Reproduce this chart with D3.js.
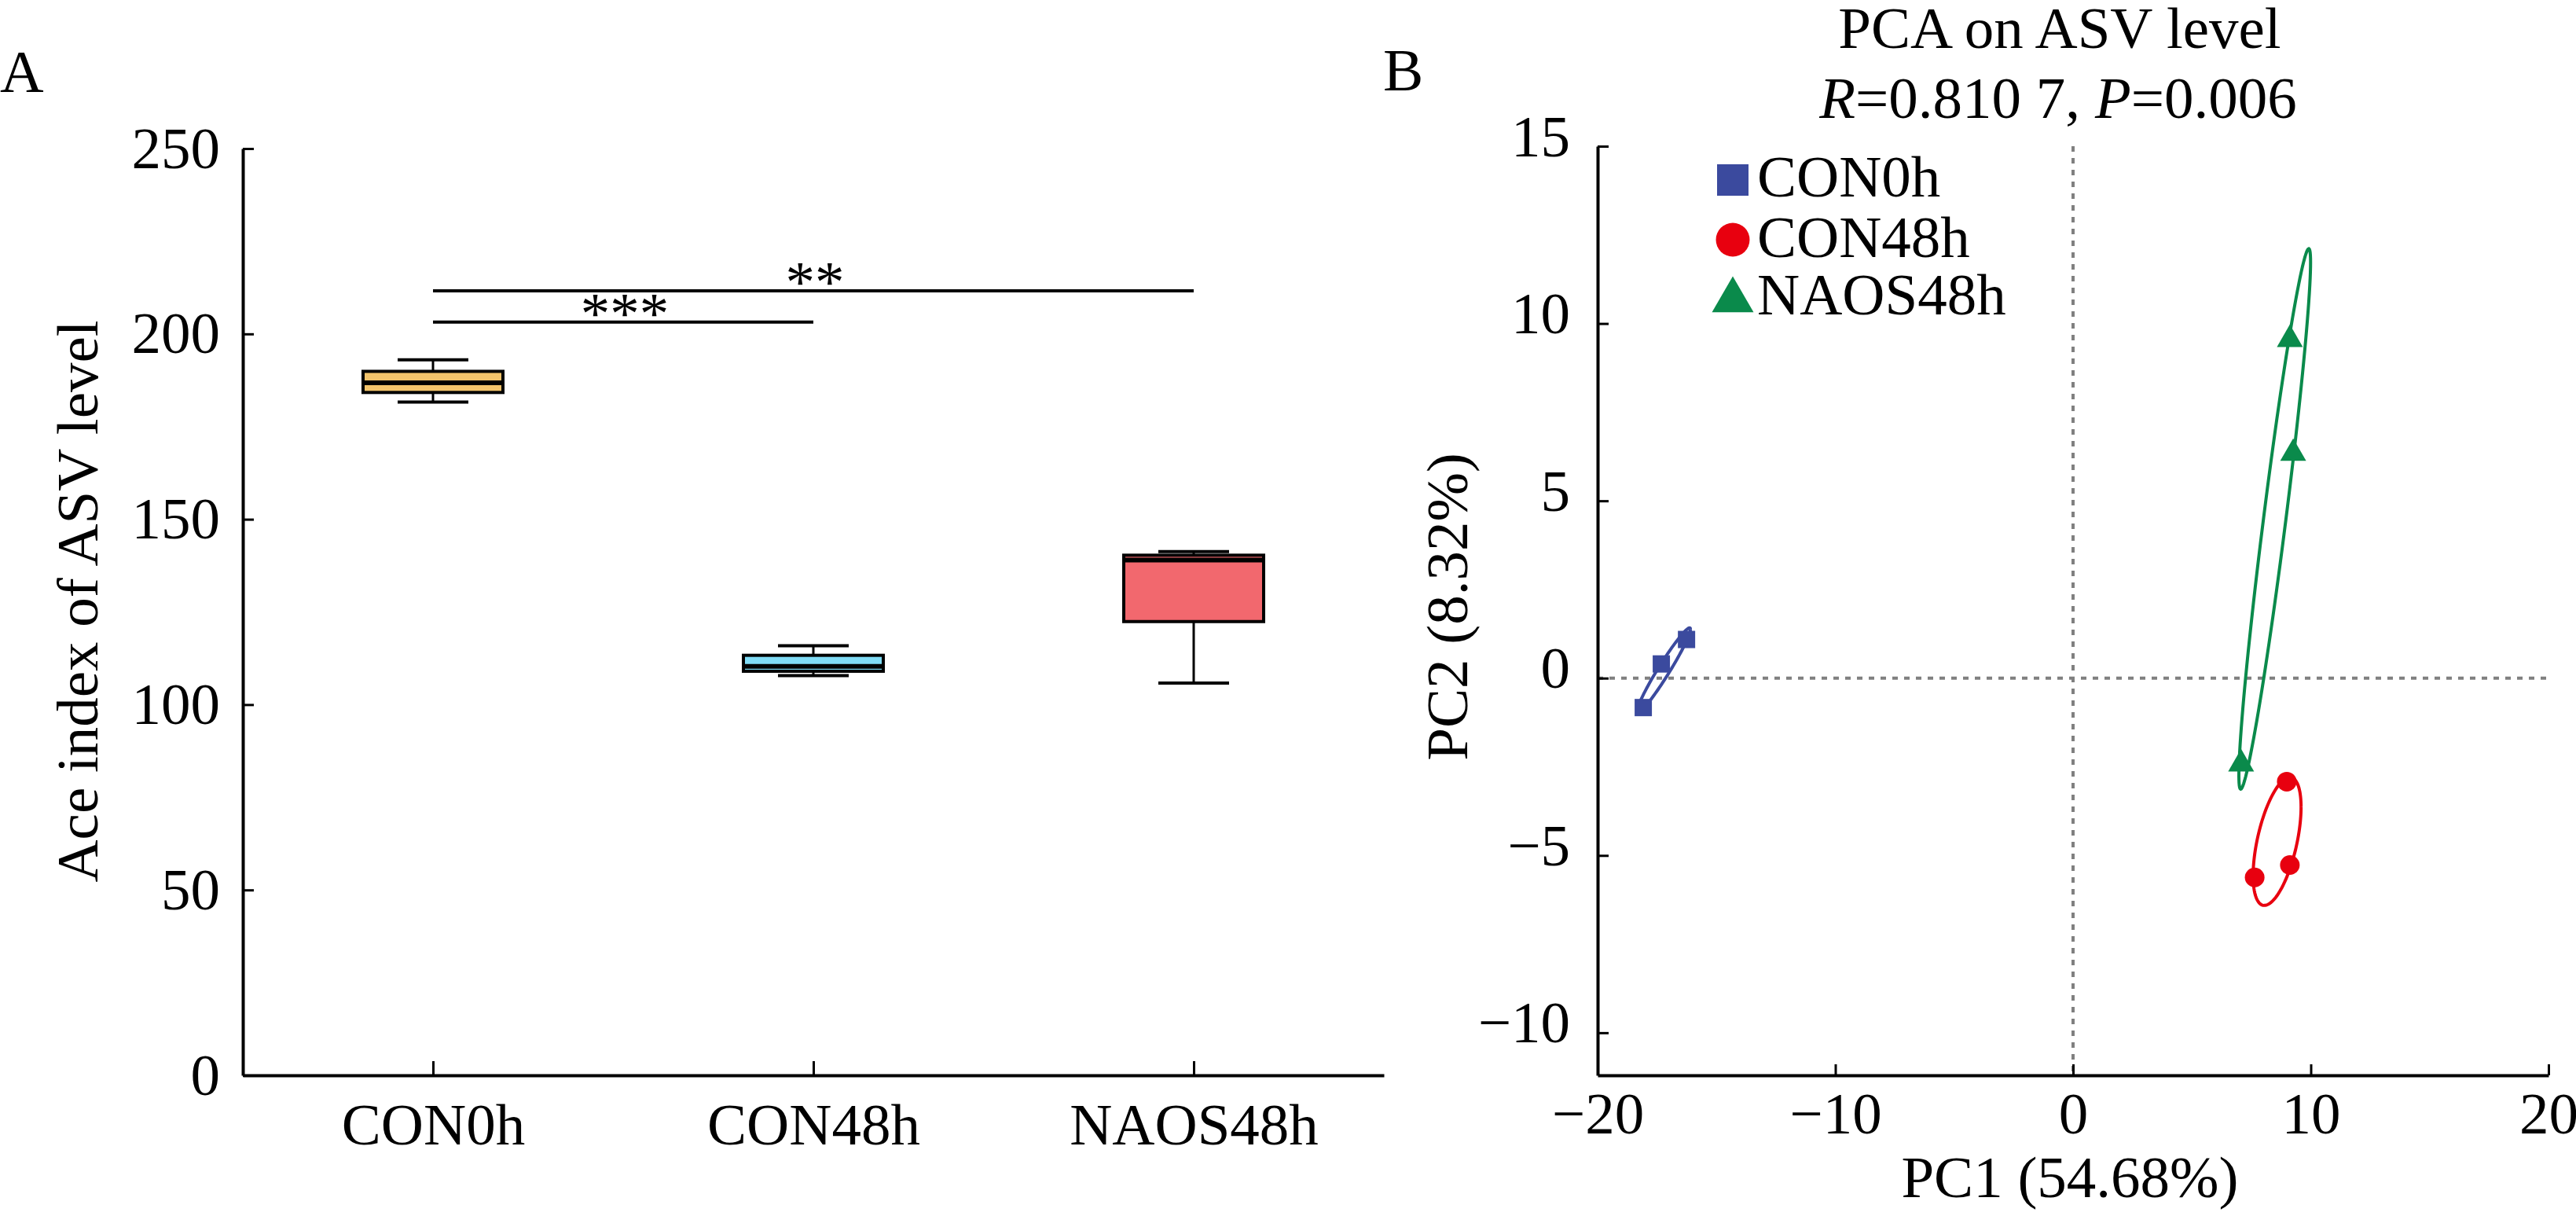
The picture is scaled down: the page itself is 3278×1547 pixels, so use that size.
<!DOCTYPE html>
<html>
<head>
<meta charset="utf-8">
<script src="https://cdn.jsdelivr.net/npm/d3@7"></script>
<style>
  body { margin: 0; background: #fff; }
  text { font-family: "Liberation Serif", "Times New Roman", serif; fill: #000; }
</style>
</head>
<body>
<svg id="fig"></svg>
<script>
// Whole figure size
const width = 3278, height = 1547;
const svg = d3.select("#fig").attr("width", width).attr("height", height);
const fontSize = 75;

// ---- Panel A data: Ace index box plots ----
const groups = ["CON0h", "CON48h", "NAOS48h"];
const whiskerLow  = [181.6, 107.8, 105.8];
const q1          = [184.2, 109.0, 122.4];
const median      = [186.8, 110.3, 139.0];
const q3          = [189.9, 113.3, 140.3];
const whiskerHigh = [193.0, 115.9, 141.3];
const boxColors   = ["#F2C36B", "#80DCF6", "#F2686E"];
const yTicksA     = [0, 50, 100, 150, 200, 250];

// significance bars
const sigFrom  = ["CON0h", "CON0h"];
const sigTo    = ["CON48h", "NAOS48h"];
const sigLevel = [203.2, 211.6];
const sigText  = ["***", "**"];

// ---- Panel B data: PCA scores ----
const pcaGroups = ["CON0h", "CON48h", "NAOS48h"];
const con0hPC1  = [-18.08, -17.32, -16.26];
const con0hPC2  = [-0.83, 0.40, 1.09];
const con48hPC1 = [8.99, 9.12, 7.64];
const con48hPC2 = [-2.92, -5.27, -5.62];
const naosPC1   = [9.12, 9.26, 7.07];
const naosPC2   = [9.55, 6.34, -2.42];
const pcaColors = ["#3B4A9E", "#E8000F", "#0A8A4B"];
const xTicksB = [-20, -10, 0, 10, 20];
const yTicksB = [-10, -5, 0, 5, 10, 15];

// ================= Panel A =================
const xA = d3.scalePoint().domain(groups).range([309, 1761]).padding(0.5);
const yA = d3.scaleLinear().domain([0, 250]).range([1368, 189]);

svg.append("text").attr("x", 0).attr("y", 117)
  .style("font-size", "77px").text("A");

const axA_y = svg.append("g").attr("transform", "translate(309,0)")
  .call(d3.axisLeft(yA).tickValues(yTicksA).tickSizeInner(-14).tickSizeOuter(0).tickPadding(29));
const axA_x = svg.append("g").attr("transform", "translate(0,1368)")
  .call(d3.axisBottom(xA).tickSizeInner(-18).tickSizeOuter(0).tickPadding(35));

svg.append("text")
  .attr("transform", "translate(124,765) rotate(-90)")
  .attr("text-anchor", "middle")
  .style("font-size", fontSize + "px")
  .text("Ace index of ASV level");

// boxes
const boxW = 178, capW = 90;
groups.forEach((g, i) => {
  const cx = xA(g);
  const gb = svg.append("g");
  // whiskers
  gb.append("line").attr("x1", cx).attr("x2", cx)
    .attr("y1", yA(whiskerHigh[i])).attr("y2", yA(q3[i]))
    .attr("stroke", "#000").attr("stroke-width", 3);
  gb.append("line").attr("x1", cx).attr("x2", cx)
    .attr("y1", yA(q1[i])).attr("y2", yA(whiskerLow[i]))
    .attr("stroke", "#000").attr("stroke-width", 3);
  [whiskerHigh[i], whiskerLow[i]].forEach(v => {
    gb.append("line").attr("x1", cx - capW / 2).attr("x2", cx + capW / 2)
      .attr("y1", yA(v)).attr("y2", yA(v))
      .attr("stroke", "#000").attr("stroke-width", 4);
  });
  gb.append("rect")
    .attr("x", cx - boxW / 2).attr("width", boxW)
    .attr("y", yA(q3[i])).attr("height", yA(q1[i]) - yA(q3[i]))
    .attr("fill", boxColors[i]).attr("stroke", "#000").attr("stroke-width", 4);
  gb.append("line").attr("x1", cx - boxW / 2).attr("x2", cx + boxW / 2)
    .attr("y1", yA(median[i])).attr("y2", yA(median[i]))
    .attr("stroke", "#000").attr("stroke-width", 6);
});

// significance bars and stars
sigText.forEach((s, i) => {
  const y = yA(sigLevel[i]);
  const x1 = xA(sigFrom[i]), x2 = xA(sigTo[i]);
  svg.append("line").attr("x1", x1).attr("x2", x2).attr("y1", y).attr("y2", y)
    .attr("stroke", "#000").attr("stroke-width", 4);
  svg.append("text").attr("x", (x1 + x2) / 2 + 2).attr("y", y + 14)
    .attr("text-anchor", "middle").style("font-size", fontSize + "px").text(s);
});

// ================= Panel B =================
const xB = d3.scaleLinear().domain([-20, 20]).range([2033, 3243]);
const yB = d3.scaleLinear().domain([-11.2, 15]).range([1368, 186]);

svg.append("text").attr("x", 1760).attr("y", 115)
  .style("font-size", "77px").text("B");

svg.append("text").attr("x", 2621).attr("y", 61).attr("text-anchor", "middle")
  .style("font-size", fontSize + "px").text("PCA on ASV level");
const sub = svg.append("text").attr("x", 2619).attr("y", 150).attr("text-anchor", "middle")
  .style("font-size", fontSize + "px");
sub.append("tspan").style("font-style", "italic").text("R");
sub.append("tspan").text("=0.810 7, ");
sub.append("tspan").style("font-style", "italic").text("P");
sub.append("tspan").text("=0.006");

// dashed reference lines
svg.append("line").attr("x1", xB(0)).attr("x2", xB(0)).attr("y1", yB(15)).attr("y2", yB(-11.2))
  .attr("stroke", "#808080").attr("stroke-width", 4).attr("stroke-dasharray", "7,8");
svg.append("line").attr("x1", xB(-20)).attr("x2", xB(20)).attr("y1", yB(0)).attr("y2", yB(0))
  .attr("stroke", "#808080").attr("stroke-width", 4).attr("stroke-dasharray", "7,8");

const axB_y = svg.append("g").attr("transform", "translate(2033,0)")
  .call(d3.axisLeft(yB).tickValues(yTicksB).tickSizeInner(-14).tickSizeOuter(0).tickPadding(35));
axB_y.selectAll(".tick text").attr("dy", "0.16em");
const axB_x = svg.append("g").attr("transform", "translate(0,1368)")
  .call(d3.axisBottom(xB).tickValues(xTicksB).tickSizeInner(-14).tickSizeOuter(0).tickPadding(21));

svg.append("text").attr("x", 2634).attr("y", 1523).attr("text-anchor", "middle")
  .style("font-size", fontSize + "px").text("PC1 (54.68%)");
svg.append("text")
  .attr("transform", "translate(1867,772) rotate(-90)")
  .attr("text-anchor", "middle")
  .style("font-size", fontSize + "px")
  .text("PC2 (8.32%)");

// axis styling for both panels
[axA_y, axA_x, axB_y, axB_x].forEach(ax => {
  ax.select(".domain").attr("stroke", "#000").attr("stroke-width", 4);
  ax.selectAll(".tick line").attr("stroke", "#000").attr("stroke-width", 3);
  ax.selectAll(".tick text").style("font-size", fontSize + "px")
    .style("font-family", "'Liberation Serif', 'Times New Roman', serif");
});

// confidence-style ellipse from the sample covariance
const ellipseScale = 1.23;
function ellipsePoints(xs, ys) {
  const n = xs.length;
  const mx = d3.mean(xs), my = d3.mean(ys);
  let sxx = 0, syy = 0, sxy = 0;
  for (let i = 0; i < n; i++) {
    sxx += (xs[i] - mx) ** 2;
    syy += (ys[i] - my) ** 2;
    sxy += (xs[i] - mx) * (ys[i] - my);
  }
  sxx /= n - 1; syy /= n - 1; sxy /= n - 1;
  const l11 = Math.sqrt(sxx), l21 = sxy / l11, l22 = Math.sqrt(Math.max(syy - l21 * l21, 0));
  return d3.range(0, 361, 3).map(a => {
    const t = a * Math.PI / 180, c = Math.cos(t), s = Math.sin(t);
    return [mx + ellipseScale * l11 * c, my + ellipseScale * (l21 * c + l22 * s)];
  });
}

const pcaX = [con0hPC1, con48hPC1, naosPC1];
const pcaY = [con0hPC2, con48hPC2, naosPC2];
const symbols = [d3.symbolSquare, d3.symbolCircle, d3.symbolTriangle];
const symbolSizes = [484, 491, 471];
const legendSizes = [1600, 1450, 1216];

const line = d3.line().x(d => xB(d[0])).y(d => yB(d[1]));
pcaGroups.forEach((g, i) => {
  svg.append("path")
    .attr("d", line(ellipsePoints(pcaX[i], pcaY[i])))
    .attr("fill", "none").attr("stroke", pcaColors[i]).attr("stroke-width", 4);
});
pcaGroups.forEach((g, i) => {
  pcaX[i].forEach((x, j) => {
    svg.append("path")
      .attr("d", d3.symbol().type(symbols[i]).size(symbolSizes[i])())
      .attr("transform", `translate(${xB(x)},${yB(pcaY[i][j])})`)
      .attr("fill", pcaColors[i]);
  });
});

// legend
const legendY = [229, 305, 382];
const legendBase = [250, 327, 400];
pcaGroups.forEach((g, i) => {
  svg.append("path")
    .attr("d", d3.symbol().type(symbols[i]).size(legendSizes[i])())
    .attr("transform", `translate(2205,${legendY[i]})`)
    .attr("fill", pcaColors[i]);
  svg.append("text").attr("x", 2236).attr("y", legendBase[i])
    .style("font-size", fontSize + "px").text(g);
});
</script>
</body>
</html>
